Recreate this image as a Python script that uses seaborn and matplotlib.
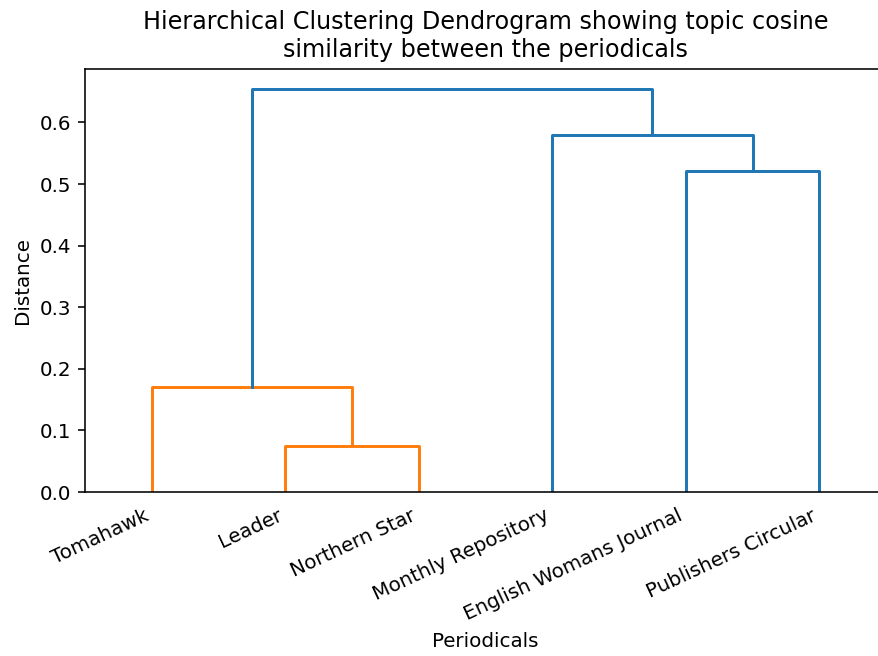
import matplotlib
matplotlib.use("Agg")
import matplotlib.pyplot as plt
import seaborn as sns
import pandas as pd

# Leaves (in dendrogram order)
periodicals = ["Tomahawk", "Leader", "Northern Star", "Monthly Repository",
               "English Womans Journal", "Publishers Circular"]
# Merges: (left node, right node) ; new nodes get ids 6, 7, ...
merge_left = [1, 0, 4, 3, 7]
merge_right = [2, 6, 5, 8, 9]
merge_height = [0.074, 0.171, 0.521, 0.579, 0.654]
merge_color = ["#ff7f0e", "#ff7f0e", "#1f77b4", "#1f77b4", "#1f77b4"]

n = len(periodicals)
xpos = {i: 5 + 10 * i for i in range(n)}
ypos = {i: 0.0 for i in range(n)}
rows = []
for k, (a, b, h, c) in enumerate(zip(merge_left, merge_right, merge_height, merge_color)):
    xs = [xpos[a], xpos[a], xpos[b], xpos[b]]
    ys = [ypos[a], h, h, ypos[b]]
    for j, (x, y) in enumerate(zip(xs, ys)):
        rows.append({"seg": k, "order": j, "x": x, "y": y, "color": c})
    new = n + k
    xpos[new] = (xpos[a] + xpos[b]) / 2
    ypos[new] = h
df = pd.DataFrame(rows)

dpi = 143
fig = plt.figure(figsize=(878 / dpi, 656 / dpi), dpi=dpi)
ax = fig.add_axes([85 / 878, 1 - 492 / 656, 801 / 878, (492 - 69) / 656])

for k, g in df.groupby("seg"):
    sns.lineplot(data=g, x="x", y="y", sort=False, estimator=None,
                 color=g["color"].iloc[0], lw=1.5, ax=ax)

ax.set_xlim(0, 10 * n)
ax.set_ylim(0, max(merge_height) * 1.05)
ax.set_xticks([5 + 10 * i for i in range(n)])
ax.set_xticklabels(periodicals, rotation=25, ha="right")
for line in ax.get_xticklines():
    line.set_visible(False)
ax.set_yticks([0.0, 0.1, 0.2, 0.3, 0.4, 0.5, 0.6])
ax.set_yticklabels(["0.0", "0.1", "0.2", "0.3", "0.4", "0.5", "0.6"])
ax.set_xlabel("Periodicals")
ax.set_ylabel("Distance")
ax.set_title("Hierarchical Clustering Dendrogram showing topic cosine\nsimilarity between the periodicals")

fig.savefig("out.png", dpi=dpi)
